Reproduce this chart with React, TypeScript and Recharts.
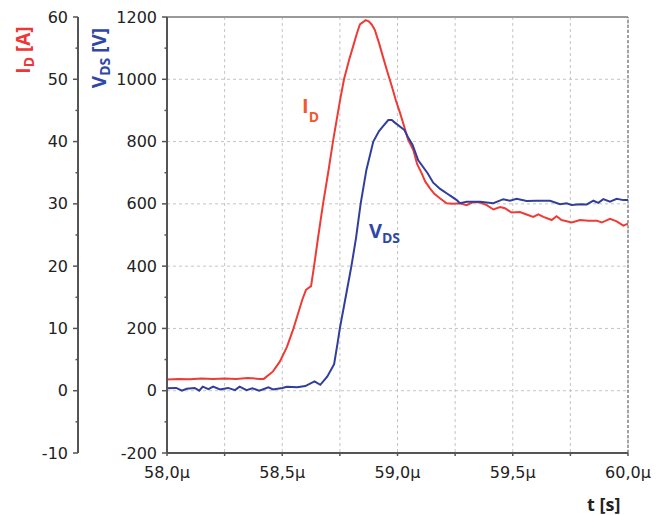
import { LineChart, Line, XAxis, YAxis, CartesianGrid, ReferenceLine } from 'recharts';

// time axis (µs) and tick values
const TIME_TICKS = [58, 58.25, 58.5, 58.75, 59, 59.25, 59.5, 59.75, 60];
const ID_TICKS = [-10, -5, 0, 5, 10, 15, 20, 25, 30, 35, 40, 45, 50, 55, 60];
const VDS_TICKS = [-200, -100, 0, 100, 200, 300, 400, 500, 600, 700, 800, 900, 1000, 1100, 1200];
const VDS_GRID = [0, 200, 400, 600, 800, 1000];

// drain current I_D [A]
const ID_T = [
  58.0, 58.05, 58.1, 58.15, 58.2, 58.25, 58.3, 58.35, 58.4, 58.42, 58.46, 58.49, 58.52, 58.547,
  58.587, 58.603, 58.625, 58.638, 58.657, 58.677, 58.7, 58.72, 58.751, 58.768, 58.79, 58.81,
  58.824, 58.837, 58.862, 58.875, 58.888, 58.902, 58.92, 58.937, 58.956, 58.976, 58.993, 59.011,
  59.03, 59.046, 59.069, 59.085, 59.105, 59.12, 59.141, 59.16, 59.184, 59.213, 59.24, 59.271,
  59.3, 59.329, 59.358, 59.387, 59.416, 59.445, 59.466, 59.495, 59.531, 59.56, 59.589, 59.611,
  59.633, 59.669, 59.69, 59.712, 59.756, 59.792, 59.828, 59.864, 59.886, 59.922, 59.951, 59.98, 60.0,
];
const ID_A = [
  1.8, 1.9, 1.85, 1.95, 1.9, 1.95, 1.9, 2.05, 1.9, 1.9, 3.1, 4.7, 7.0, 9.8,
  14.6, 16.2, 16.8, 20.0, 25.0, 30.0, 35.2, 40.0, 46.7, 50.0, 53.1, 55.6,
  57.4, 58.8, 59.5, 59.3, 58.8, 57.9, 55.8, 53.6, 51.2, 48.8, 46.6, 44.6,
  42.3, 40.3, 38.6, 36.4, 34.9, 33.6, 32.5, 31.6, 30.9, 30.1, 30.0, 30.1,
  29.8, 30.3, 30.2, 29.8, 29.1, 29.5, 29.3, 28.6, 28.7, 28.3, 27.9, 28.3,
  27.9, 27.4, 28.0, 27.4, 27.0, 27.4, 27.3, 27.3, 27.0, 27.6, 27.2, 26.5, 26.8,
];

// drain-source voltage V_DS [V]
const VDS_T = [
  58.0, 58.04, 58.065, 58.085, 58.12, 58.14, 58.155, 58.18, 58.2, 58.23, 58.265, 58.295, 58.315,
  58.345, 58.37, 58.4, 58.415, 58.44, 58.46, 58.5, 58.52, 58.565, 58.6, 58.64, 58.665, 58.695,
  58.725, 58.74, 58.75, 58.775, 58.8, 58.82, 58.84, 58.865, 58.895, 58.92, 58.935, 58.96, 58.975,
  58.99, 59.03, 59.045, 59.065, 59.09, 59.13, 59.155, 59.185, 59.213, 59.235, 59.257, 59.271,
  59.3, 59.358, 59.416, 59.459, 59.488, 59.517, 59.56, 59.604, 59.662, 59.705, 59.734, 59.756,
  59.792, 59.821, 59.85, 59.871, 59.893, 59.922, 59.951, 59.98, 60.0,
];
const VDS_V = [
  8, 9, 0, 6, 9, 0, 13, 5, 13, 4, 9, 2, 13,
  2, 8, 0, 4, 11, 4, 9, 13, 11, 15, 30, 19, 45,
  85, 153, 201, 300, 400, 490, 600, 709, 800, 834, 847, 869, 869,
  860, 837, 815, 790, 740, 699, 668, 648, 634, 623, 612, 602,
  607, 607, 602, 615, 610, 616, 609, 610, 610, 599, 602, 596,
  599, 598, 610, 603, 615, 607, 616, 612, 612,
];

const RED = '#ef3b36';
const BLUE = '#303e9c';
const AXIS = '#555';
const FONT = 'DejaVu Sans, sans-serif';

// axis ids: the inner (closest to plot) axis must sort first
const VDS_AXIS = 'a_vds';
const ID_AXIS = 'b_id';

// merge both series on one time base
const data = [
  ...ID_T.map((t, i) => ({ t, id: ID_A[i] })),
  ...VDS_T.map((t, i) => ({ t, vds: VDS_V[i] })),
].sort((a, b) => a.t - b.t);

const fmtTime = (v: number) => v.toFixed(1).replace('.', ',') + 'µ';

function yTick(step: number) {
  return (props: any) => {
    const { x, y, payload } = props;
    const ax = x + 10;
    const major = Math.abs(payload.value / step - Math.round(payload.value / step)) < 1e-6;
    return (
      <g>
        <line x1={ax - (major ? 5 : 2.5)} x2={ax} y1={y} y2={y} stroke={AXIS} strokeWidth={1.5} />
        {major && (
          <text x={x} y={y} textAnchor="end" dominantBaseline="central" fontSize={16} fontFamily={FONT} fill="#222">
            {payload.value}
          </text>
        )}
      </g>
    );
  };
}

function xTick(props: any) {
  const { x, y, payload } = props;
  const ay = y - 3;
  const major = Math.abs(payload.value * 2 - Math.round(payload.value * 2)) < 1e-6;
  return (
    <g>
      <line x1={x} x2={x} y1={ay} y2={ay + 3} stroke={AXIS} strokeWidth={1.5} />
      {major && (
        <text x={x} y={ay + 25} textAnchor="middle" fontSize={16} fontFamily={FONT} fill="#222">
          {fmtTime(payload.value)}
        </text>
      )}
    </g>
  );
}

export default function App() {
  return (
    <div style={{ position: 'absolute', left: 0, top: 0, width: 667, height: 515, background: '#fff' }}>
      <LineChart width={667} height={515} data={data} margin={{ top: 17, right: 39, bottom: 0, left: 0 }}>
        <CartesianGrid
          yAxisId={VDS_AXIS}
          stroke="#c4c4c4"
          strokeDasharray="3 3"
          horizontalValues={VDS_GRID}
          verticalValues={TIME_TICKS}
        />
        <XAxis
          dataKey="t"
          type="number"
          domain={[58, 60]}
          ticks={TIME_TICKS}
          height={62}
          tickSize={3}
          tickMargin={0}
          tickLine={false}
          tick={xTick}
          axisLine={{ stroke: AXIS, strokeWidth: 2 }}
          allowDataOverflow
        />
        <YAxis
          yAxisId={VDS_AXIS}
          domain={[-200, 1200]}
          ticks={VDS_TICKS}
          width={89}
          tickSize={5}
          tickMargin={5}
          tickLine={false}
          tick={yTick(200)}
          axisLine={{ stroke: AXIS, strokeWidth: 2 }}
          interval={0}
        />
        <YAxis
          yAxisId={ID_AXIS}
          domain={[-10, 60]}
          ticks={ID_TICKS}
          width={78}
          tickSize={5}
          tickMargin={5}
          tickLine={false}
          tick={yTick(10)}
          axisLine={{ stroke: AXIS, strokeWidth: 2 }}
          interval={0}
        />
        <ReferenceLine yAxisId={VDS_AXIS} y={1200} stroke="#9a9a9a" strokeWidth={2} />
        <ReferenceLine yAxisId={VDS_AXIS} x={60} stroke="#888" strokeDasharray="3 2" strokeWidth={1.5} />
        <Line
          yAxisId={ID_AXIS}
          dataKey="id"
          stroke={RED}
          strokeWidth={2}
          dot={false}
          connectNulls
          type="linear"
          isAnimationActive={false}
        />
        <Line
          yAxisId={VDS_AXIS}
          dataKey="vds"
          stroke={BLUE}
          strokeWidth={2}
          dot={false}
          connectNulls
          type="linear"
          isAnimationActive={false}
        />
      </LineChart>
      <svg width={667} height={515} style={{ position: 'absolute', left: 0, top: 0, pointerEvents: 'none' }}>
        <text
          transform="translate(30,50) rotate(-90)"
          textAnchor="middle"
          fontSize={19}
          fontWeight="bold"
          fontFamily="Open Sans, sans-serif"
          fill="#f03535"
        >
          <tspan>I</tspan>
          <tspan fontSize={14} dy={4}>D</tspan>
          <tspan dy={-4}> [A]</tspan>
        </text>
        <text
          transform="translate(106,58) rotate(-90)"
          textAnchor="middle"
          fontSize={19}
          fontWeight="bold"
          fontFamily="Open Sans, sans-serif"
          fill="#2f47a8"
        >
          <tspan>V</tspan>
          <tspan fontSize={14} dy={4}>DS</tspan>
          <tspan dy={-4}> [V]</tspan>
        </text>
        <text x={302} y={113} fontSize={20} fontWeight="bold" fontFamily="Open Sans, sans-serif" fill="#f05a2c">
          <tspan>I</tspan>
          <tspan fontSize={14} dy={9}>D</tspan>
        </text>
        <text x={369} y={238} fontSize={20} fontWeight="bold" fontFamily="Open Sans, sans-serif" fill="#2f47a8">
          <tspan>V</tspan>
          <tspan fontSize={14} dy={5}>DS</tspan>
        </text>
        <text x={587} y={511} fontSize={18} fontWeight="bold" fontFamily="Open Sans, sans-serif" fill="#222">
          t [s]
        </text>
      </svg>
    </div>
  );
}
